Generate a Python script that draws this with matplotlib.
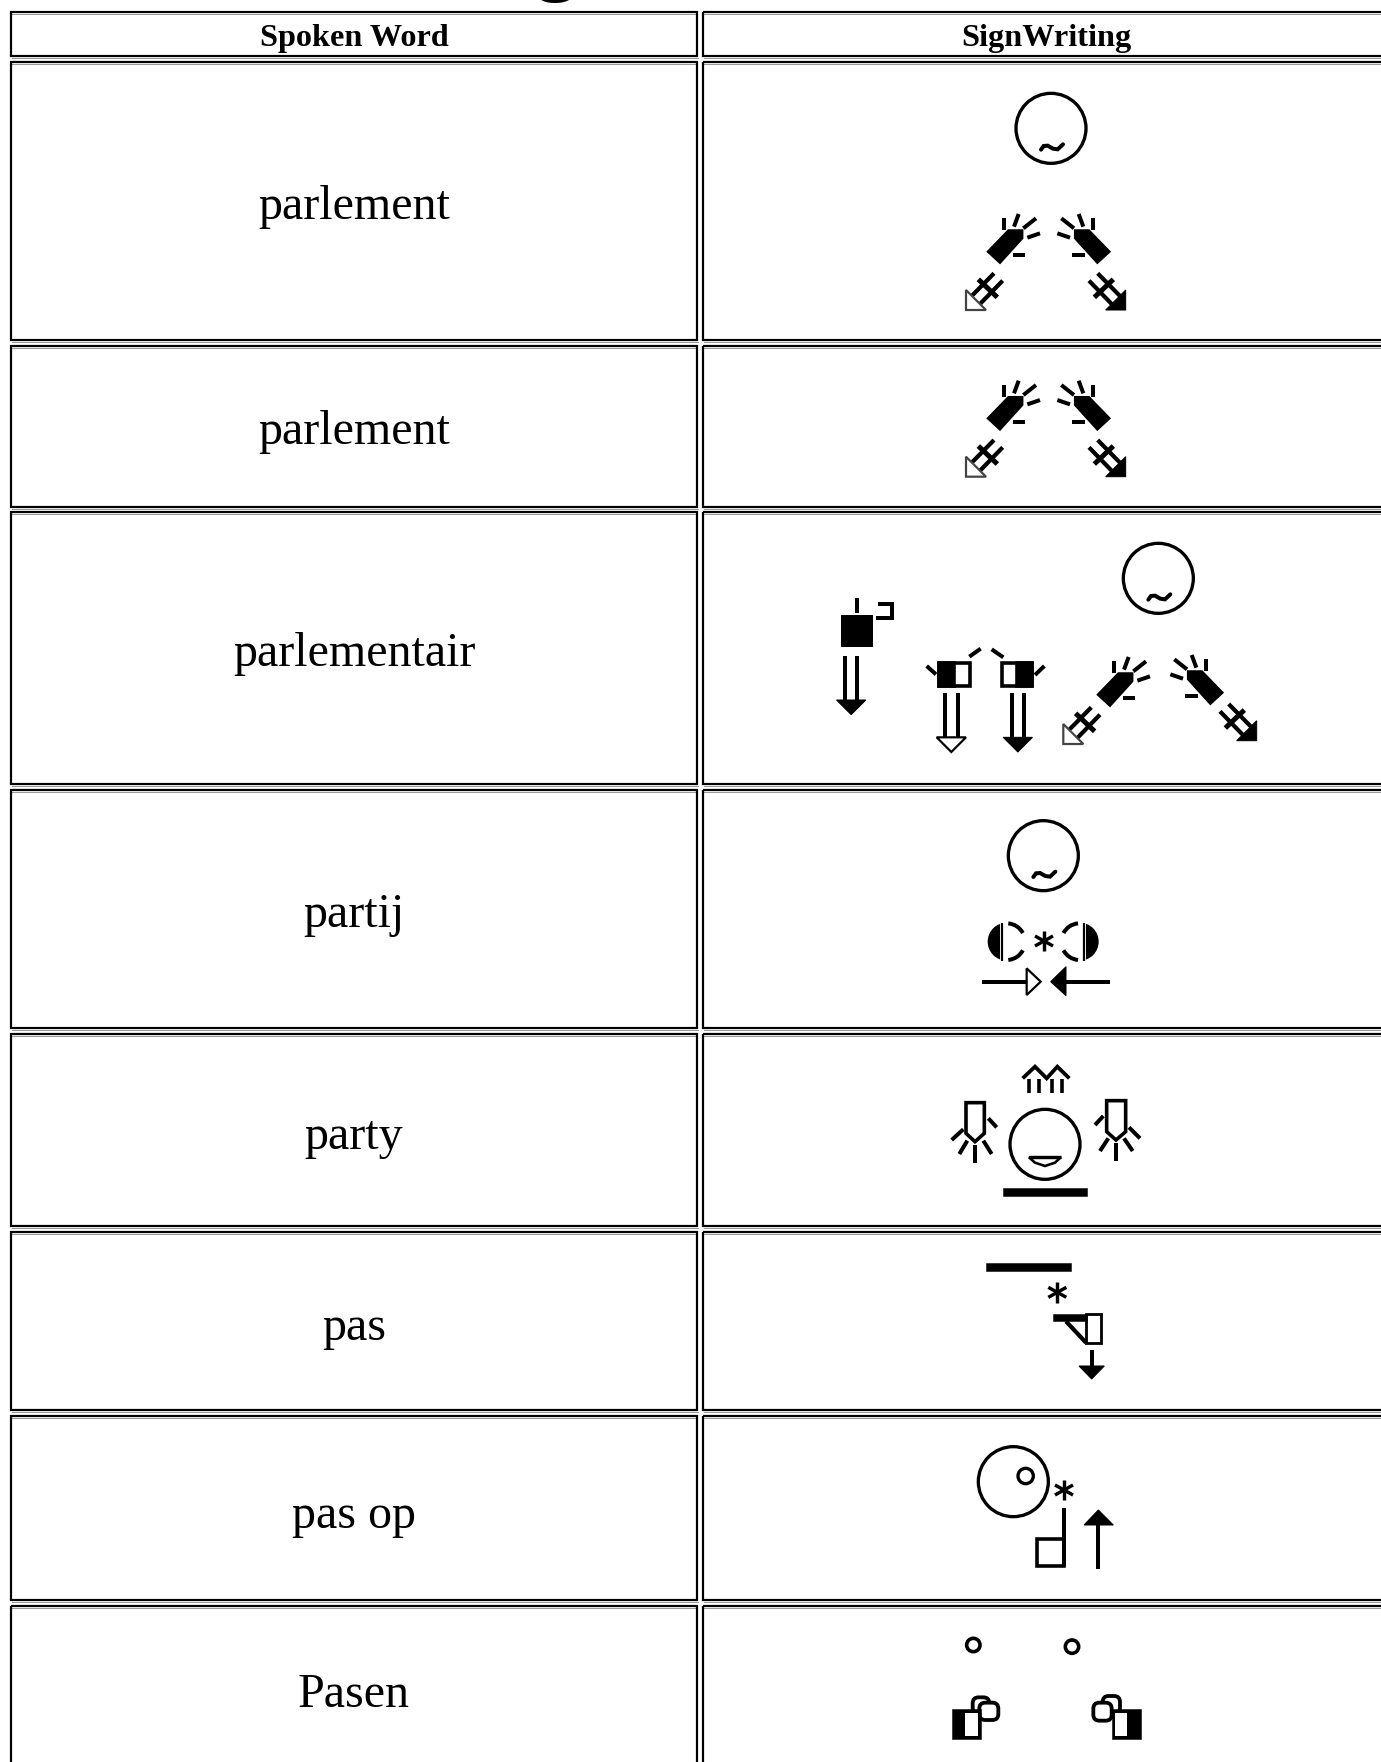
import matplotlib
matplotlib.use('Agg')
from matplotlib import pyplot as plt
from matplotlib.patches import Polygon, Circle, Rectangle, Wedge, Arc, FancyBboxPatch

headers = ['Spoken Word', 'SignWriting']
words = ['parlement', 'parlement', 'parlementair', 'partij', 'party', 'pas', 'pas op', 'Pasen']

# layout of the table in image pixels
row_tops = [12, 62, 346, 512, 790, 1034, 1232, 1416, 1606]
row_bottoms = [56, 340, 507, 784, 1028, 1226, 1410, 1600, 1800]
word_baselines = [219, 444, 666, 927, 1149, 1340, 1528, 1707]
COL1 = (11.5, 697.5)
COL2 = (703, 1400)
PX = 0.72  # one pixel in points at dpi 100

plt.rcParams['font.family'] = ['Liberation Serif', 'DejaVu Serif']
fig = plt.figure(figsize=(13.81, 17.62), dpi=100)
ax = fig.add_axes([0, 0, 1, 1])
ax.set_xlim(0, 1381)
ax.set_ylim(1762, 0)
ax.axis('off')


# glyph helpers, shapes are written in units of 1/3 pixel from origin o
def conv(p, o):
    return [(o[0] + x / 3, o[1] + y / 3) for x, y in p]


def stroke(p, o, w=4, c='black', cap='butt'):
    q = conv(p, o)
    ax.plot([a for a, b in q], [b for a, b in q], color=c, lw=w * PX,
            solid_capstyle=cap, solid_joinstyle='miter')


def fill(p, o, fc='black', ec='black', w=1):
    ax.add_patch(Polygon(conv(p, o), closed=True, fc=fc, ec=ec, lw=w * PX, zorder=2))


def box(x0, y0, x1, y1, o, fc='white', ec='black', w=3.6):
    fill([(x0, y0), (x1, y0), (x1, y1), (x0, y1)], o, fc, ec, w)


def ring(x, y, r, o, w=3.3):
    c = conv([(x, y)], o)[0]
    ax.add_patch(Circle(c, r / 3, fc='none', ec='black', lw=w * PX, zorder=2))


def tilde(x, y, o):
    shape = [(-30, 6), (-22, -5), (-10, -6), (6, 3), (20, 5), (36, -10)]
    stroke([(x + a, y + b) for a, b in shape], o, w=4, cap='round')


def face(x, y, o):
    ring(x, y, 105, o)
    tilde(x, y + 58, o)


def star(x, y, o):
    r = 31
    stroke([(x, y - r), (x, y + r)], o, w=3.4)
    stroke([(x - 27, y - 15), (x + 27, y + 15)], o, w=3.4)
    stroke([(x - 27, y + 15), (x + 27, y - 15)], o, w=3.4)


def hand(o, flip=False):
    f = (lambda p: [(652 - x, y) for x, y in p]) if flip else (lambda p: p)
    fill(f([(142, 545), (205, 480), (248, 480), (248, 505), (180, 580)]), o, w=1.5)
    stroke(f([(192, 480), (192, 445)]), o)
    stroke(f([(222, 470), (236, 432)]), o)
    stroke(f([(250, 475), (288, 445)]), o)
    stroke(f([(262, 503), (300, 490)]), o)
    stroke(f([(218, 556), (255, 556)]), o)


def move_arrow(o, flip=False):
    f = (lambda p: [(635 - x, y) for x, y in p]) if flip else (lambda p: p)
    head = f([(78, 720), (78, 660), (138, 720)])
    stroke(f([(162, 610), (95, 678)]), o, w=4.2)
    stroke(f([(188, 632), (120, 702)]), o, w=4.2)
    stroke(f([(115, 628), (172, 682)]), o, w=5)
    if flip:
        fill(head, o)
    else:
        fill(head, o, fc='white', ec='#444444', w=2.2)
        stroke([(100, 675), (100, 690)], o, w=0.1, c='white')


def down_arrow(x0, x1, y0, y1, o, black=True):
    stroke([(x0, y0), (x0, y1)], o)
    stroke([(x1, y0), (x1, y1)], o)
    m = (x0 + x1) / 2
    head = [(m - 44, y1), (m + 44, y1), (m, y1 + 44)]
    if black:
        fill(head, o)
    else:
        fill(head, o, fc='white', ec='black', w=2.2)


# table cells
for i in range(len(row_tops)):
    t, b = row_tops[i], row_bottoms[i]
    for x0, x1 in (COL1, COL2):
        ax.add_patch(Rectangle((x0, t), x1 - x0, b - t, fc='none', ec='black', lw=2.2 * PX, zorder=3))
        ax.plot([x0 + 1, x1 - 1], [t + 1.6, t + 1.6], color='#999999', lw=1 * PX, zorder=2)
        ax.plot([x0 + 1, x1 + 1], [b + 1.6, b + 1.6], color='#999999', lw=1 * PX, zorder=2)

# end of the page title, only its descender is left in the crop
ax.text(556, -14, 'g', fontsize=58, fontweight='bold', ha='center', va='baseline')

ax.text(354, 46, headers[0], fontsize=23.2, fontweight='bold', ha='center', va='baseline')
ax.text(1046, 46, headers[1], fontsize=23.2, fontweight='bold', ha='center', va='baseline')
for w, y in zip(words, word_baselines):
    ax.text(354, y, w, fontsize=34.6, ha='center', va='baseline')

# row 1
o = (941, 71)
face(330, 172, o)
o = (940, 70)
hand(o)
hand(o, True)
move_arrow(o)
move_arrow(o, True)

# row 2
o = (940, 236.7)
hand(o)
hand(o, True)
move_arrow(o)
move_arrow(o, True)

# row 3
o = (810, 530)
fill([(93, 255), (185, 255), (185, 347), (93, 347)], o)
stroke([(142, 203), (142, 250)], o)
stroke([(198, 265), (246, 265), (246, 222), (205, 222)], o)
down_arrow(105, 142, 378, 510, o)
box(388, 398, 480, 468, o)
box(388, 398, 432, 468, o, fc='black')
stroke([(350, 408), (378, 433)], o)
stroke([(478, 380), (512, 356)], o)
box(575, 398, 665, 468, o)
box(620, 398, 665, 468, o, fc='black')
stroke([(545, 358), (580, 382)], o)
stroke([(675, 435), (703, 408)], o)
down_arrow(405, 443, 490, 622, o, black=False)
down_arrow(605, 642, 490, 622, o)
face(1045, 145, o)
hand((1050, 513))
hand((1053, 511), True)
move_arrow((1037.3, 504))
move_arrow((1071, 500.7), True)

# row 4
o = (950, 810)
face(280, 137, o)
for c, t0, t1, sign in ((170, 90, 270, 1), (389, -90, 90, -1)):
    ax.add_patch(Wedge(conv([(c, 395)], o)[0], 57 / 3, t0, t1, fc='black', ec='none', zorder=2))
    x0, x1 = sorted((c - sign * 20, c + sign * 2))
    box(x0, 336, x1, 454, o, ec='none', w=0)
    stroke([(c - sign * 13, 338), (c - sign * 13, 452)], o, w=2.2)
    for a, b in ((28, 85), (-85, -28)):
        if sign < 0:
            a, b = 180 - b, 180 - a
        ax.add_patch(Arc(conv([(c, 395)], o)[0], 110 / 3, 110 / 3, theta1=a, theta2=b,
                         ec='black', lw=4 * PX, zorder=2))
star(282, 393, o)
stroke([(95, 515), (230, 515)], o)
fill([(230, 475), (230, 555), (272, 515)], o, fc='white', ec='black', w=2.2)
fill([(302, 515), (348, 470), (348, 557)], o)
stroke([(348, 515), (480, 515)], o)

# row 5
o = (930, 1050)
stroke([(278, 85), (315, 50), (350, 85), (382, 50), (418, 85)], o, w=3.8)
for x in (297, 327, 367, 397):
    stroke([(x, 88), (x, 128)], o, w=3.6)
fill([(108, 158), (163, 158), (163, 250), (135, 275), (108, 250)], o, fc='none', w=3.6)
stroke([(65, 270), (100, 238)], o)
stroke([(88, 312), (112, 272)], o)
stroke([(135, 285), (135, 338)], o)
stroke([(160, 272), (185, 312)], o)
stroke([(175, 205), (200, 232)], o)
fill([(530, 152), (587, 152), (587, 245), (558, 270), (530, 245)], o, fc='none', w=3.6)
stroke([(495, 225), (520, 198)], o)
stroke([(510, 303), (535, 265)], o)
stroke([(558, 280), (558, 332)], o)
stroke([(582, 265), (608, 303)], o)
stroke([(597, 232), (630, 265)], o)
ring(345, 283, 105, o)
fill([(297, 322), (392, 322), (375, 338), (345, 348), (315, 338)], o, fc='white', w=2.6)
stroke([(297, 322), (392, 322)], o, w=3.4)
box(218, 413, 472, 437, o, fc='black', w=0.5)

# row 6
o = (960, 1250)
box(78, 38, 333, 63, o, fc='black', w=0.5)
star(292, 127, o)
box(378, 192, 423, 278, o, w=2.8)
box(280, 192, 380, 214, o, fc='black', w=0.5)
stroke([(318, 214), (378, 278)], o, w=4.2)
stroke([(395, 300), (395, 355)], o)
fill([(357, 348), (433, 348), (395, 387)], o)

# row 7
o = (960, 1430)
ring(160, 155, 105, o)
ring(197, 138, 23, o)
star(312, 180, o)
box(232, 327, 313, 408, o)
stroke([(313, 233), (313, 408)], o)
stroke([(415, 285), (415, 418)], o)
fill([(372, 285), (460, 285), (415, 240)], o)

# row 8
o = (930, 1610)
ring(130, 105, 20, o, w=3.6)
ring(426, 110, 20, o, w=3.6)
for x0, y0, x1, y1 in ((128, 262, 178, 310), (148, 278, 205, 330), (518, 258, 570, 310), (490, 278, 545, 332)):
    a, b = conv([(x0, y0), (x1, y1)], o)
    ax.add_patch(FancyBboxPatch((a[0] + 4, a[1] + 4), b[0] - a[0] - 8, b[1] - a[1] - 8,
                                boxstyle='round,pad=4,rounding_size=6', fc='white', ec='black',
                                lw=3.8 * PX, zorder=2))
box(65, 298, 152, 387, o, fc='black', w=0.5)
box(105, 308, 143, 378, o, ec='none', w=0)
box(545, 298, 632, 387, o, fc='black', w=0.5)
box(555, 308, 590, 378, o, ec='none', w=0)

fig.savefig('out.png', dpi=100)
